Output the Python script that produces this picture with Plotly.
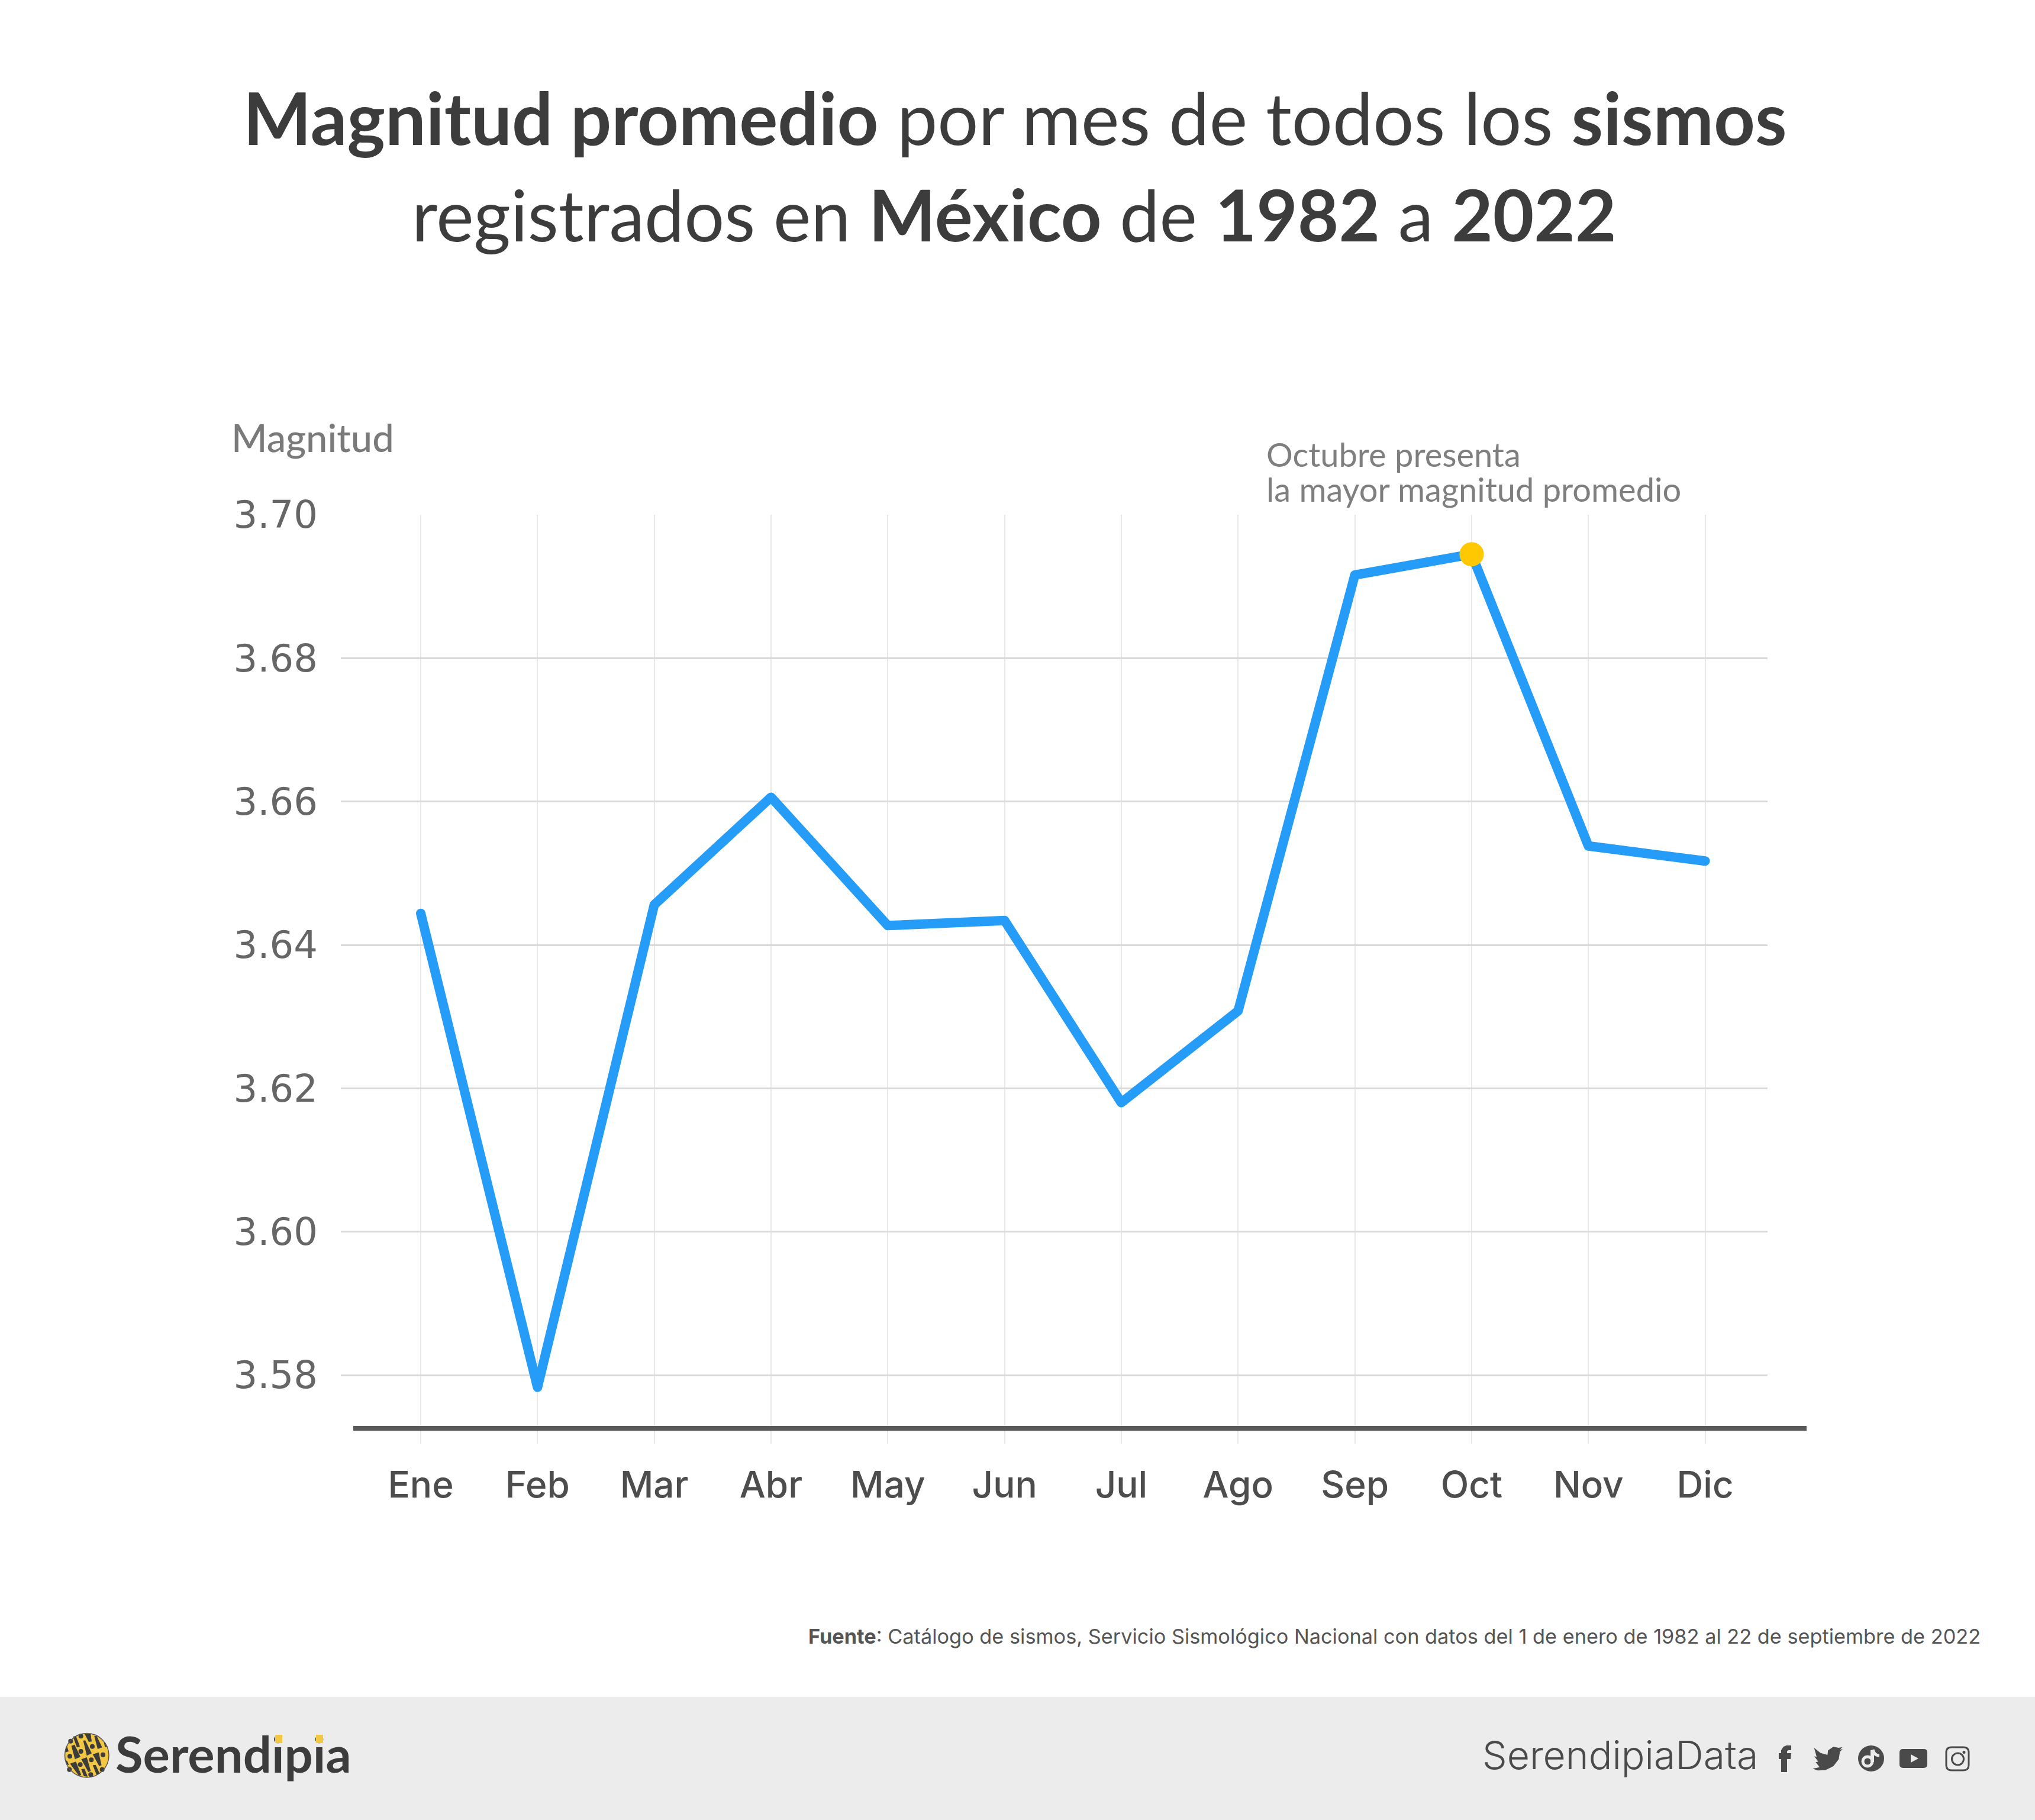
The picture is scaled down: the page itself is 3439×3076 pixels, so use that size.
import plotly.graph_objects as go

W, H = 3439, 3076
months = ["Ene", "Feb", "Mar", "Abr", "May", "Jun", "Jul", "Ago", "Sep", "Oct", "Nov", "Dic"]
magnitud = [3.6444, 3.5783, 3.6456, 3.6606, 3.6427, 3.6434, 3.6180, 3.6308, 3.6916, 3.6945, 3.6538, 3.6517]
y_ticks = [3.58, 3.60, 3.62, 3.64, 3.66, 3.68, 3.70]
y_tick_labels = ["3.58", "3.60", "3.62", "3.64", "3.66", "3.68", "3.70"]
peak_month = "Oct"
peak_value = 3.6945

FONT = "Lato"
WIDE = "Inter"
px = lambda v: v / W
py = lambda v: 1 - v / H

def rect(x0, y0, x1, y1, color, layer="above"):
    return dict(type="rect", xref="paper", yref="paper", x0=px(x0), x1=px(x1), y0=py(y0), y1=py(y1),
                fillcolor=color, line_width=0, layer=layer)

def ellipse(x0, y0, x1, y1, fill, line=None, lw=0):
    return dict(type="circle", xref="paper", yref="paper", x0=px(x0), x1=px(x1), y0=py(y0), y1=py(y1),
                fillcolor=fill, line=dict(color=line or fill, width=lw), layer="above")

def path(points, fill=None, line=None, lw=0, close=True):
    d = "M " + " L ".join(f"{px(a):.5f},{py(b):.5f}" for a, b in points) + (" Z" if close else "")
    return dict(type="path", xref="paper", yref="paper", path=d, fillcolor=fill or "rgba(0,0,0,0)",
                line=dict(color=line or "rgba(0,0,0,0)", width=lw), layer="above")

def rrect(x0, y0, x1, y1, r, fill, line=None, lw=0):
    p = [(x0 + r, y0), (x1 - r, y0), (x1, y0), (x1, y0 + r), (x1, y1 - r), (x1, y1), (x1 - r, y1), (x0 + r, y1),
         (x0, y1), (x0, y1 - r), (x0, y0 + r), (x0, y0), (x0 + r, y0)]
    f = [f"{px(a):.5f},{py(b):.5f}" for a, b in p]
    d = f"M {f[0]} L {f[1]} Q {f[2]} {f[3]} L {f[4]} Q {f[5]} {f[6]} L {f[7]} Q {f[8]} {f[9]} L {f[10]} Q {f[11]} {f[12]} Z"
    return dict(type="path", xref="paper", yref="paper", path=d, fillcolor=fill,
                line=dict(color=line or "rgba(0,0,0,0)", width=lw), layer="above")

def text(x, y, s, size, color, anchor="left", family=FONT, weight=None):
    font = dict(family=family, size=size, color=color)
    if weight:
        font["weight"] = weight
    return dict(xref="paper", yref="paper", x=px(x), y=py(y), text=s, showarrow=False, xanchor=anchor,
                yanchor="middle", align=anchor, font=font)

def swatch(cx, cy, w, h, color):
    return dict(xref="paper", yref="paper", x=px(cx), y=py(cy), text="\u00a0", showarrow=False, xanchor="center",
                yanchor="middle", width=w, height=h, bgcolor=color, borderpad=0, borderwidth=0,
                font=dict(size=8, color=color))

DARK = "#3c3c3c"
YEL = "#f2c744"
ICON = "#4a4a4a"
BG = "#ececec"

shapes = [
    rect(0, 2868, W, H, BG, "below"),
    rect(1150, 871.5, 2987, 878, "white", "below"),
    rect(597, 2410, 3053, 2418, "#5a5a5a"),
    ellipse(109.5, 2929.5, 184, 3004, YEL),
]
# logo pattern, in coordinates of a 285-px tile of the 95-px logo box
lx = lambda v: 100 + v / 3
ly = lambda v: 2920 + v / 3
dots = [(110, 43), (58, 68), (168, 95), (110, 120), (54, 145), (222, 137), (163, 163), (107, 187), (218, 212), (52, 212), (160, 238)]
wedges = [
    [(70, 45), (85, 42), (105, 95), (90, 100)],
    [(62, 92), (78, 86), (108, 148), (80, 160)],
    [(122, 66), (132, 64), (165, 130), (140, 142)],
    [(130, 33), (160, 33), (165, 70), (150, 72)],
    [(178, 42), (190, 42), (218, 100), (195, 108)],
    [(33, 100), (40, 95), (48, 120), (30, 125)],
    [(112, 160), (140, 150), (160, 220), (148, 225)],
    [(55, 182), (85, 172), (112, 240), (100, 244)],
    [(170, 135), (200, 125), (215, 190), (203, 195)],
    [(112, 210), (128, 208), (145, 248), (125, 246)],
    [(170, 190), (185, 188), (205, 232), (190, 240)],
    [(30, 160), (42, 172), (50, 190), (38, 185)],
    [(225, 65), (235, 85), (245, 95), (232, 98)],
]
for cx, cy in dots:
    shapes.append(ellipse(lx(cx - 12), ly(cy - 12), lx(cx + 12), ly(cy + 12), DARK))
for w in wedges:
    shapes.append(path([(lx(a), ly(b)) for a, b in w], DARK))
shapes.append(ellipse(109.5, 2929.5, 184, 3004, "rgba(0,0,0,0)", "#555555", 1.5))

# social icons
fx = lambda v: 3000 + v / 3
fy = lambda v: 2940 + v / 3
shapes += [path([(3027, 2950), (3027, 2958), (3022, 2958), (3020, 2960), (3020, 2963), (3027, 2963), (3026, 2973),
                 (3020, 2973), (3020, 2995), (3010, 2995), (3010, 2973), (3006, 2973), (3006, 2963), (3010, 2963),
                 (3010, 2958), (3014, 2952), (3019, 2950)], ICON)]
bird = [(197, 42), (230, 68), (265, 78), (268, 55), (295, 37), (322, 42), (340, 38), (328, 52), (342, 48), (328, 62),
        (322, 100), (295, 135), (255, 155), (215, 157), (190, 148), (225, 140), (205, 115), (218, 112), (198, 85), (210, 88)]
shapes.append(path([(fx(a), fy(b)) for a, b in bird], ICON))
shapes += [ellipse(3140, 2950, 3184, 2994, ICON),
           ellipse(3148, 2969, 3164, 2985, "rgba(0,0,0,0)", BG, 5),
           path([(3164, 2958), (3164, 2978)], None, BG, 6, close=False),
           dict(type="path", xref="paper", yref="paper", layer="above", fillcolor="rgba(0,0,0,0)",
                line=dict(color=BG, width=5),
                path=f"M {px(3165)},{py(2957)} Q {px(3167)},{py(2967)} {px(3176)},{py(2967)}")]
shapes += [rrect(3210, 2956, 3257, 2988, 6, ICON),
           path([(3229, 2965), (3242, 2972), (3229, 2979)], BG)]
shapes += [rrect(3289, 2953, 3327, 2992, 9, "rgba(0,0,0,0)", ICON, 3),
           ellipse(3298.5, 2963, 3318.5, 2983, "rgba(0,0,0,0)", ICON, 3),
           ellipse(3316.5, 2959, 3321.5, 2964, ICON)]

annotations = [
    text(1715, 198, "<b>Magnitud promedio</b> por mes de todos los <b>sismos</b>", 122, DARK, "center"),
    text(1714, 362, "registrados en <b>México</b> de <b>1982</b> a <b>2022</b>", 120, DARK, "center"),
    text(389, 739, "Magnitud", 65, "#7a7a7a", weight=500),
    text(2138, 768, "Octubre presenta", 56, "#7f7f7f"),
    text(2138, 827, "la mayor magnitud promedio", 56, "#7f7f7f"),
    text(3349, 2765, "<b>Fuente</b>: Catálogo de sismos, Servicio Sismológico Nacional con datos del 1 de enero de 1982 al 22 de septiembre de 2022",
         34.3, "#555555", "right", family=WIDE),
    text(193, 2963, "Serendipia", 85, DARK, weight=700),
    swatch(471, 2939, 12, 14, YEL),
    swatch(540, 2939, 12, 14, YEL),
    text(2503, 2966, "SerendipiaData", 66, "#4a4a4a", family=WIDE, weight=300),
]

y_top, y_bottom = 870, 2440
v_per_px = 0.12 / (2324 - 870)
y_lo = 3.58 - (y_bottom - 2324) * v_per_px

fig = go.Figure()
fig.add_trace(go.Scatter(x=months, y=magnitud, mode="lines",
                         line=dict(color="#259CF7", width=16), hoverinfo="skip", showlegend=False))
fig.add_trace(go.Scatter(x=[peak_month], y=[peak_value], mode="markers",
                         marker=dict(color="#FFC800", size=41), hoverinfo="skip", showlegend=False))

step = (2881.6 - 711) / 11
fig.update_layout(
    width=W, height=H, margin=dict(l=0, r=0, t=0, b=0, autoexpand=False),
    paper_bgcolor="white", plot_bgcolor="white",
    font=dict(family=FONT),
    shapes=shapes, annotations=annotations,
    xaxis=dict(domain=[px(576), px(2987)], type="category", categoryorder="array", categoryarray=months,
               range=[(576 - 711) / step, (2987 - 711) / step],
               showgrid=True, gridcolor="#e8e8e8", gridwidth=2, zeroline=False, showline=False,
               tickfont=dict(family=WIDE, size=62, color="#4d4d4d", weight=500), ticks="", ticklabelstandoff=28),
    yaxis=dict(domain=[py(y_bottom), py(y_top)], range=[y_lo, 3.70],
               tickmode="array", tickvals=y_ticks, ticktext=y_tick_labels,
               showgrid=True, gridcolor="#dadada", gridwidth=2.5, zeroline=False, showline=False,
               tickfont=dict(family="DejaVu Sans", size=64, color="#666666"), ticks="", ticklabelstandoff=38),
)
post = """
document.documentElement.style.margin='0';
document.body.style.margin='0';
document.querySelectorAll('.js-line').forEach(function(e){e.style.strokeLinejoin='round';e.style.strokeLinecap='round';});
"""
fig.write_html("out.html", post_script=post, config=dict(displayModeBar=False))
